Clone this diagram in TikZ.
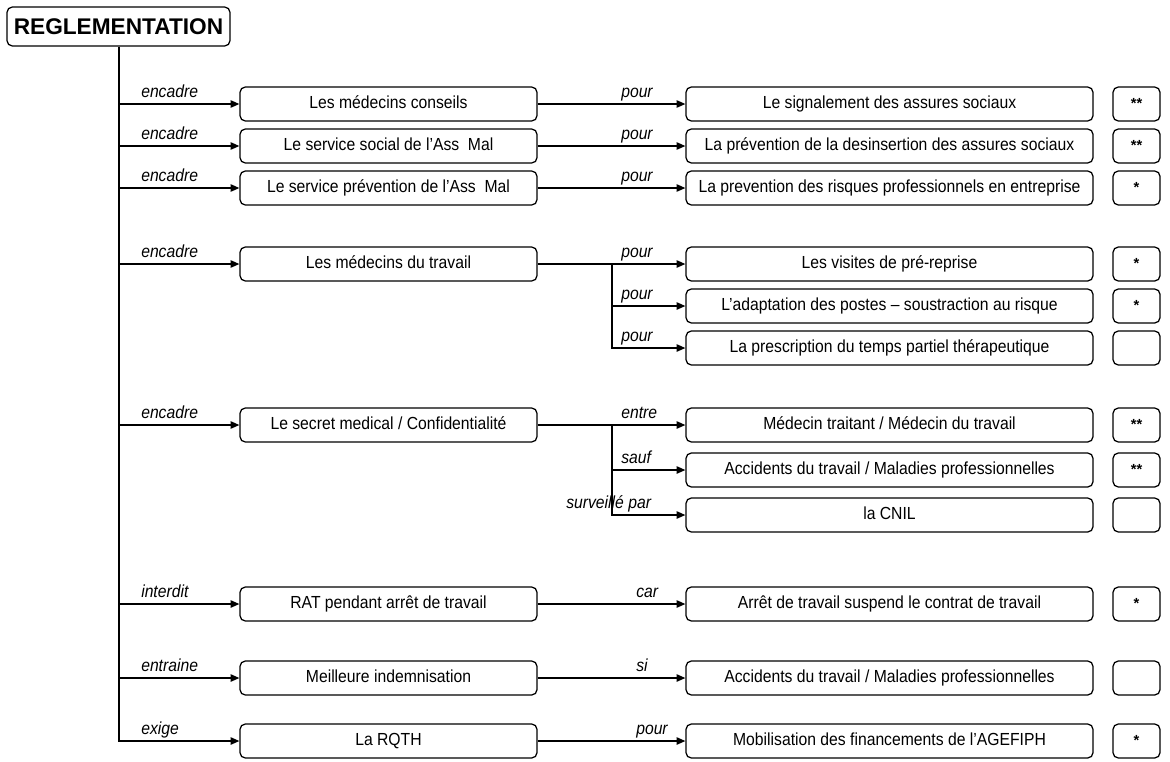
\documentclass[tikz,border=0pt]{standalone}
\usepackage{fontspec}
\setmainfont{Liberation Sans}
\newfontfamily\narrowsans[FakeStretch=0.9, Ligatures=TeX]{Liberation Sans}
\usetikzlibrary{arrows.meta}

\tikzset{
  box/.style={draw, rounded corners=4pt, line width=0.95pt, inner sep=0pt,
    minimum height=25.5pt, text height=9.6pt, text depth=2.6pt,
    font=\narrowsans\fontsize{13.1}{15}\selectfont},
  titlebox/.style={box, minimum width=167.25pt, minimum height=29.25pt,
    text height=12pt, text depth=0pt, font=\fontsize{17}{19}\selectfont\bfseries},
  midbox/.style={box, minimum width=222.75pt},
  resbox/.style={box, minimum width=305.25pt},
  starbox/.style={box, minimum width=35.25pt, text height=7pt, text depth=0pt,
    font=\fontsize{11}{12}\selectfont\bfseries},
  lnk/.style={line width=0.95pt},
  arr/.style={lnk, -{Triangle[length=6.5pt,width=5.5pt]}},
  lbl/.style={font=\narrowsans\fontsize{13.1}{15}\selectfont\itshape, anchor=base west, inner sep=0pt},
}

\begin{document}
\begin{tikzpicture}[x=0.75pt, y=-0.75pt]
\useasboundingbox (0,0) rectangle (1170,761);

% root
\node[titlebox] (reg) at (118.5,26.5) {REGLEMENTATION};
\coordinate (tb) at (119,741);

% middle column
\node[midbox] (m1) at (388.5,104) {Les médecins conseils};
\node[midbox] (m2) at (388.5,146) {Le service social de l'Ass\enspace Mal};
\node[midbox] (m3) at (388.5,188) {Le service prévention de l'Ass\enspace Mal};
\node[midbox] (m4) at (388.5,264) {Les médecins du travail};
\node[midbox] (m5) at (388.5,425) {Le secret medical / Confidentialité};
\node[midbox] (m6) at (388.5,604) {RAT pendant arrêt de travail};
\node[midbox] (m7) at (388.5,678) {Meilleure indemnisation};
\node[midbox] (m8) at (388.5,741) {La RQTH};

% right column
\node[resbox] (r1)  at (889.5,104) {Le signalement des assures sociaux};
\node[resbox] (r2)  at (889.5,146) {La prévention de la desinsertion des assures sociaux};
\node[resbox] (r3)  at (889.5,188) {La prevention des risques professionnels en entreprise};
\node[resbox] (r4a) at (889.5,264) {Les visites de pré-reprise};
\node[resbox] (r4b) at (889.5,306) {L'adaptation des postes -- soustraction au risque};
\node[resbox] (r4c) at (889.5,348) {La prescription du temps partiel thérapeutique};
\node[resbox] (r5a) at (889.5,425) {Médecin traitant / Médecin du travail};
\node[resbox] (r5b) at (889.5,470) {Accidents du travail / Maladies professionnelles};
\node[resbox] (r5c) at (889.5,515) {la CNIL};
\node[resbox] (r6)  at (889.5,604) {Arrêt de travail suspend le contrat de travail};
\node[resbox] (r7)  at (889.5,678) {Accidents du travail / Maladies professionnelles};
\node[resbox] (r8)  at (889.5,741) {Mobilisation des financements de l'AGEFIPH};

% rating boxes
\node[starbox] (s1)  at (1136.5,104) {**};
\node[starbox] (s2)  at (1136.5,146) {**};
\node[starbox] (s3)  at (1136.5,188) {*};
\node[starbox] (s4a) at (1136.5,264) {*};
\node[starbox] (s4b) at (1136.5,306) {*};
\node[starbox] (s4c) at (1136.5,348) {};
\node[starbox] (s5a) at (1136.5,425) {**};
\node[starbox] (s5b) at (1136.5,470) {**};
\node[starbox] (s5c) at (1136.5,515) {};
\node[starbox] (s6)  at (1136.5,604) {*};
\node[starbox] (s7)  at (1136.5,678) {};
\node[starbox] (s8)  at (1136.5,741) {*};

% trunk and branches to the middle column
\draw[arr] (tb |- reg.south) -- (tb) -- (m8.west);
\foreach \m in {m1,m2,m3,m4,m5,m6,m7}
  \draw[arr] (\m.west -| tb) -- (\m.west);

% middle column to right column
\draw[arr] (m1.east) -- (r1.west);
\draw[arr] (m2.east) -- (r2.west);
\draw[arr] (m3.east) -- (r3.west);
\draw[arr] (m6.east) -- (r6.west);
\draw[arr] (m7.east) -- (r7.west);
\draw[arr] (m8.east) -- (r8.west);

% forked connectors
\coordinate (b4) at (612,264);
\draw[arr] (m4.east) -- (r4a.west);
\draw[arr] (b4) |- (r4b.west);
\draw[arr] (b4) |- (r4c.west);

\coordinate (b5) at (612,425);
\draw[arr] (m5.east) -- (r5a.west);
\draw[arr] (b5) |- (r5b.west);
\draw[arr] (b5) |- (r5c.west);

% relation labels, left
\node[lbl] (l1) at (141,97)  {encadre};
\node[lbl] (l2) at (141,139) {encadre};
\node[lbl] (l3) at (141,181) {encadre};
\node[lbl] (l4) at (141,257) {encadre};
\node[lbl] (l5) at (141,418) {encadre};
\node[lbl] (l6) at (141,597) {interdit};
\node[lbl] (l7) at (141,671) {entraine};
\node[lbl] (l8) at (141,734) {exige};

% relation labels, right
\node[lbl] (k1)  at (621,97)  {pour};
\node[lbl] (k2)  at (621,139) {pour};
\node[lbl] (k3)  at (621,181) {pour};
\node[lbl] (k4a) at (621,257) {pour};
\node[lbl] (k4b) at (621,299) {pour};
\node[lbl] (k4c) at (621,341) {pour};
\node[lbl] (k5a) at (621,418) {entre};
\node[lbl] (k5b) at (621,463) {sauf};
\node[lbl] (k5c) at (566,508) {surveillé par};
\node[lbl] (k6)  at (636,597) {car};
\node[lbl] (k7)  at (636,671) {si};
\node[lbl] (k8)  at (636,734) {pour};
\end{tikzpicture}
\end{document}
